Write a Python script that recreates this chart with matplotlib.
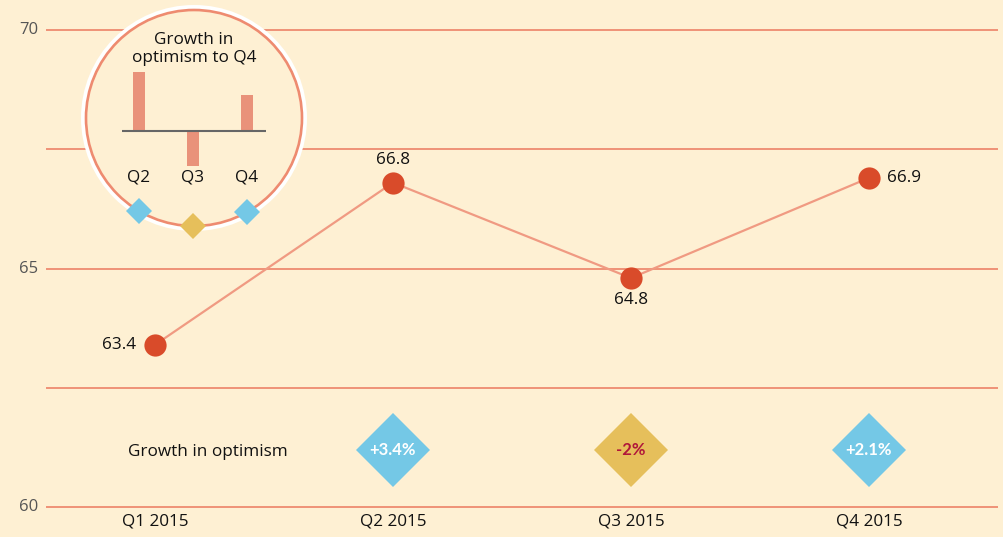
import matplotlib.pyplot as plt
import numpy as np

# ---- data ----
quarters = ["Q1 2015", "Q2 2015", "Q3 2015", "Q4 2015"]
optimism = [63.4, 66.8, 64.8, 66.9]
growth = [3.4, -2.0, 2.1]
growth_labels = ["+3.4%", "-2%", "+2.1%"]
inset_labels = ["Q2", "Q3", "Q4"]
yticks = [60, 65, 70]
gridlines = [60, 62.5, 65, 67.5, 70]

# ---- style ----
BG = "#FEF0D3"
GRID = "#EE8B70"
LINE = "#F09A82"
MARK = "#D94B2A"
BLUE = "#74C8E6"
YELLOW = "#E6BF5B"
DARKRED = "#B0173A"
BAR = "#E9927A"
plt.rcParams['font.family'] = ['Open Sans', 'DejaVu Sans']

W, H = 1004, 537
fig = plt.figure(figsize=(W / 100, H / 100), dpi=100, facecolor=BG)

# main axes spanning whole figure, scaled to pixel layout
ax = fig.add_axes([0, 0, 1, 1])
ax.set_facecolor(BG)
px_per_x, x0_px = 238.0, 155.0
px_per_y, y60_px = 47.7, 507.0
ax.set_xlim(-x0_px / px_per_x, (W - x0_px) / px_per_x)
ax.set_ylim(60 - (H - y60_px) / px_per_y, 60 + y60_px / px_per_y)
ax.axis('off')

x = np.arange(len(quarters))
ax.hlines(gridlines, -0.458, 3.542, color=GRID, lw=1.3, zorder=1)
for t in yticks:
    ax.text(-0.49, t, str(t), ha='right', va='center', fontsize=12, color='#555555')
for xi, q in zip(x, quarters):
    ax.text(xi, 59.69, q, ha='center', va='center', fontsize=12.3, color='#111111')

ax.plot(x, optimism, color=LINE, lw=1.6, zorder=2)
ax.plot(x, optimism, 'o', ms=16, color=MARK, mew=0, zorder=3)
label_offsets = [(-19, 0, 'right', 'center'), (0, 23, 'center', 'center'),
                 (0, -22, 'center', 'center'), (18, 0, 'left', 'center')]
for xi, v, (dx, dy, ha, va) in zip(x, optimism, label_offsets):
    ax.annotate(f"{v:.1f}", (xi, v), xytext=(dx * 0.72, dy * 0.72), textcoords='offset points',
                ha=ha, va=va, fontsize=12.3, color='#111111')

# growth diamonds
gy = 61.2
ax.text(0.223, gy - 0.04, "Growth in optimism", ha='center', va='center', fontsize=12.3, color='#111111')
for xi, g, lab in zip(x[1:], growth, growth_labels):
    col = BLUE if g > 0 else YELLOW
    tcol = 'white' if g > 0 else DARKRED
    ax.plot([xi], [gy], 'D', ms=37.5, color=col, mew=0, zorder=3)
    ax.text(xi, gy, lab, ha='center', va='center', fontsize=12, fontweight='bold',
            family=['Lato', 'DejaVu Sans'], color=tcol, zorder=4)

# overlay in pixel coordinates for the inset circle
ov = fig.add_axes([0, 0, 1, 1])
ov.set_xlim(0, W)
ov.set_ylim(H, 0)
ov.axis('off')
ov.patch.set_visible(False)
cx, cy, R = 194.0, 118.0, 108.0
ov.add_patch(plt.Circle((cx, cy), R + 5, facecolor='white', edgecolor='none', zorder=1))
ov.add_patch(plt.Circle((cx, cy), R, facecolor=BG, edgecolor=GRID, lw=1.9, zorder=2))
ov.text(cx, 49, "Growth in\noptimism to Q4", ha='center', va='center', fontsize=12.3,
        linespacing=1.1, color='#111111', zorder=3)

# inset bar axes
bx_px0, bx_px1, by_top, by_bot = 122.0, 266.0, 60.0, 200.0
bar_x0_px, bar_dx_px, base_px, px_per_g = 139.0, 54.0, 131.0, 17.3
bax = fig.add_axes([bx_px0 / W, (H - by_bot) / H, (bx_px1 - bx_px0) / W, (by_bot - by_top) / H])
bax.set_xlim((bx_px0 - bar_x0_px) / bar_dx_px, (bx_px1 - bar_x0_px) / bar_dx_px)
bax.set_ylim(-(by_bot - base_px) / px_per_g, (base_px - by_top) / px_per_g)
bax.axis('off')
bax.patch.set_visible(False)
bx = np.arange(len(growth))
bax.bar(bx, growth, width=0.24, color=BAR, zorder=2)
bax.axhline(0, color='#666666', lw=1.5, zorder=3)
for xi, lab in zip(bx, inset_labels):
    bax.text(xi, -(178 - base_px) / px_per_g, lab, ha='center', va='center', fontsize=12.3, color='#111111')

# small diamonds sitting on the circle under each inset bar
for xi, g in zip(bx, growth):
    px = bar_x0_px + bar_dx_px * xi
    py = cy + np.sqrt(R ** 2 - (px - cx) ** 2)
    ov.plot([px], [py], 'D', ms=13.2, color=BLUE if g > 0 else YELLOW, mew=0, zorder=4)

fig.savefig("out.png", dpi=100, facecolor=BG)
